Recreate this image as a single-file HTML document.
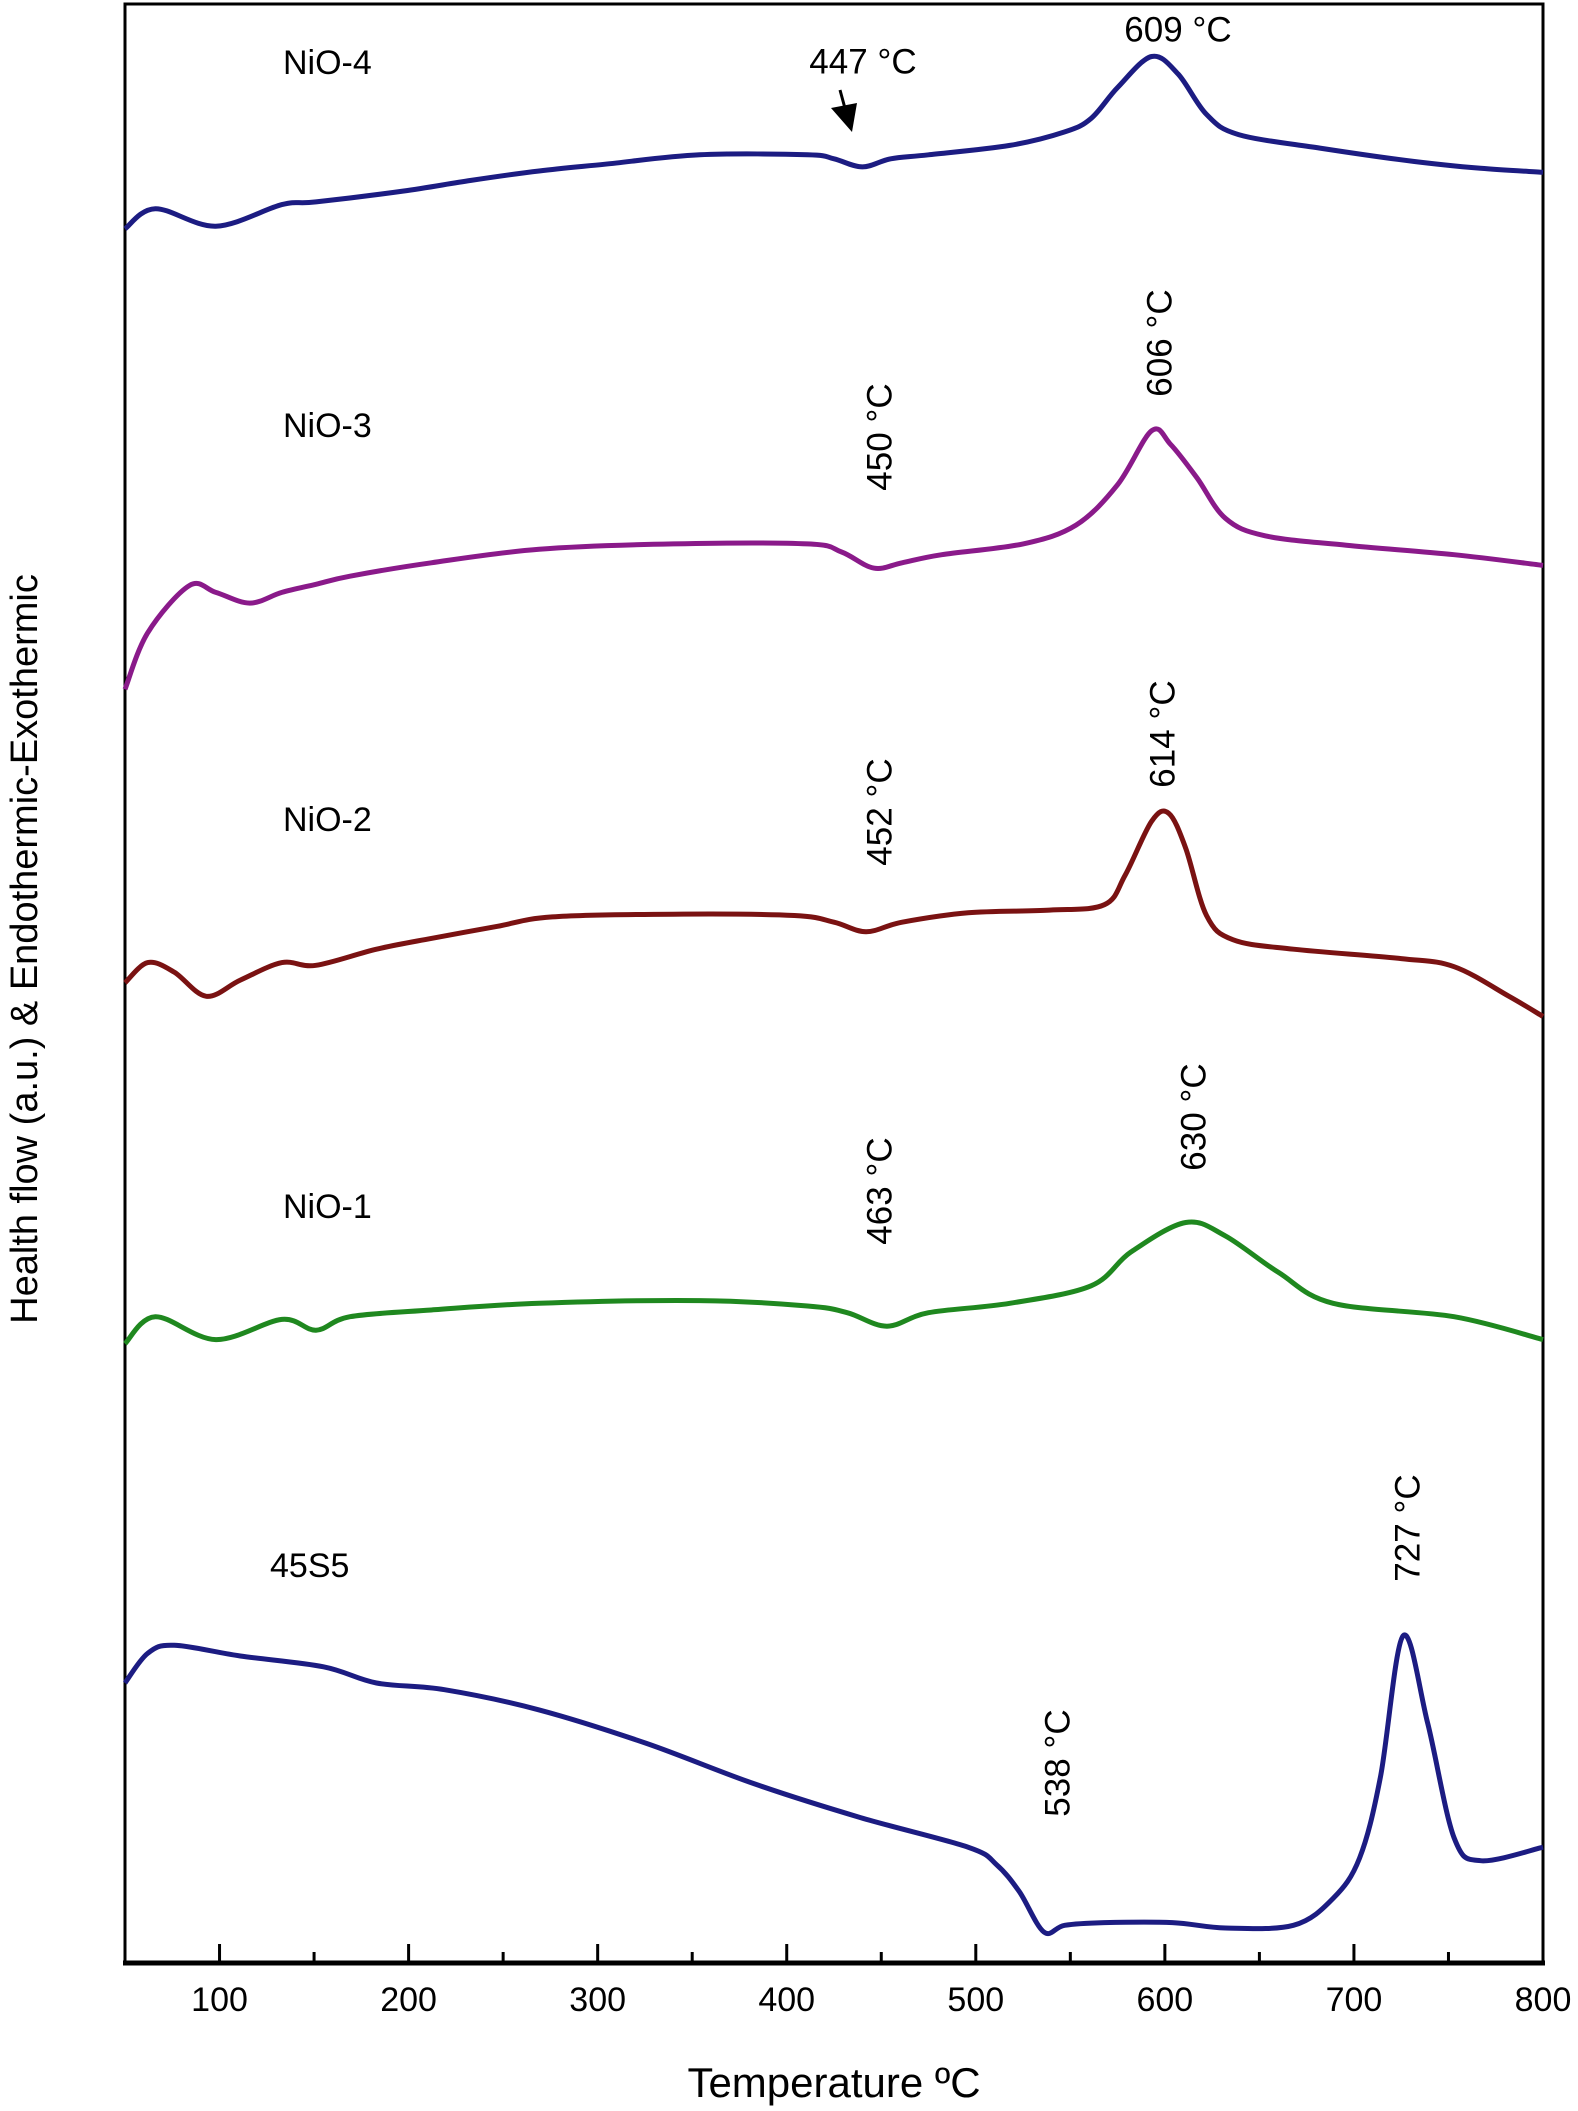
<!DOCTYPE html>
<html><head><meta charset="utf-8"><style>
html,body{margin:0;padding:0;background:#fff}
svg{display:block}
text{font-family:"Liberation Sans",sans-serif;fill:#000}
</style></head><body>
<svg id="chart" width="1578" height="2111" viewBox="0 0 1578 2111">
<g id="plot"></g>
</svg>
<script>
const tickValues=[100,200,300,400,500,600,700,800];
const minorTicks=[150,250,350,450,550,650,750];
const seriesNames=["NiO-4","NiO-3","NiO-2","NiO-1","45S5"];
const seriesColors=["#1c1c82","#8a1a8a","#7a1212","#1f881f","#1c1c82"];
const nio4T=[50,66,98,133,151,197,233,269,304,354,411,425,440,455,475,518,547,561,575,593,607,622,639,682,732,767,800];
const nio4V=[1288,1303,1290,1306,1308,1316,1324,1331,1336,1343,1343,1340,1334,1340,1343,1350,1360,1370,1393,1416,1403,1373,1358,1348,1338,1333,1330];
const nio3T=[50,62,84,98,116,133,151,169,212,269,340,411,429,446,461,482,525,553,575,593,603,617,632,653,696,753,800];
const nio3V=[946,988,1023,1018,1010,1018,1024,1030,1040,1050,1054,1054,1048,1036,1040,1046,1054,1068,1098,1138,1128,1103,1073,1060,1053,1046,1038];
const nio2T=[50,62,76,93,111,133,151,183,212,247,276,340,404,425,442,461,496,539,568,579,593,602,611,622,636,668,725,753,782,800];
const nio2V=[728,743,736,718,730,743,741,753,761,770,777,779,778,773,766,773,780,782,786,808,848,854,828,778,760,753,746,740,718,703];
const nio1T=[50,66,98,133,151,169,212,269,354,411,432,453,475,518,561,582,611,632,660,689,753,800];
const nio1V=[460,480,463,478,470,480,485,490,492,488,483,473,483,490,503,528,550,540,513,490,480,463];
const s45T=[50,62,76,111,155,183,219,269,326,383,439,496,511,523,536,547,568,604,632,668,689,703,714,726,739,753,767,800];
const s45V=[208,230,236,228,220,208,203,188,163,133,108,86,73,53,23,28,30,30,26,28,48,78,138,243,178,93,76,86];

const L=125,R=1543,B=1963,T0=4;
const xs=t=>L+(t-50)*(R-L)/750;
const ys=v=>B-v*(B-T0)/1455;
const NS="http://www.w3.org/2000/svg";
const plot=document.getElementById('plot');
function mk(tag,attrs,parent){const e=document.createElementNS(NS,tag);for(const k in attrs)e.setAttribute(k,attrs[k]);(parent||plot).appendChild(e);return e;}
function pathFrom(ts,vs){
  const p=ts.map((t,i)=>[xs(t),ys(vs[i])]);
  let d="M"+p[0][0].toFixed(1)+","+p[0][1].toFixed(1);
  for(let i=0;i<p.length-1;i++){
    const p0=p[i-1]||p[i],p1=p[i],p2=p[i+1],p3=p[i+2]||p2;
    const c1=[p1[0]+(p2[0]-p0[0])/6,p1[1]+(p2[1]-p0[1])/6];
    const c2=[p2[0]-(p3[0]-p1[0])/6,p2[1]-(p3[1]-p1[1])/6];
    d+=" C"+c1[0].toFixed(1)+","+c1[1].toFixed(1)+" "+c2[0].toFixed(1)+","+c2[1].toFixed(1)+" "+p2[0].toFixed(1)+","+p2[1].toFixed(1);
  }
  return d;
}
const frame=mk('rect',{x:L,y:T0,width:R-L,height:B-T0,fill:'none',stroke:'#000','stroke-width':3});


const xaxis=mk('line',{x1:L-2,y1:B,x2:R+2,y2:B,stroke:'#000','stroke-width':5});


tickValues.forEach(v=>{
  const tk=mk('line',{x1:xs(v),y1:B,x2:xs(v),y2:B-19,stroke:'#000','stroke-width':3});
  
  
  const lb=mk('text',{x:xs(v),y:B+48,'text-anchor':'middle','font-size':34});
  lb.textContent=v;
  
  
});
minorTicks.forEach(v=>{
  const tk=mk('line',{x1:xs(v),y1:B,x2:xs(v),y2:B-11,stroke:'#000','stroke-width':3});
  
  
});
const xt=mk('text',{x:(L+R)/2,y:2097,'text-anchor':'middle','font-size':42});
xt.textContent="Temperature ºC";


const yt=mk('text',{x:0,y:0,'text-anchor':'middle','font-size':38,transform:'translate(37,949) rotate(-90)'});
yt.textContent="Health flow (a.u.) & Endothermic-Exothermic";


const allT=[nio4T,nio3T,nio2T,nio1T,s45T],allV=[nio4V,nio3V,nio2V,nio1V,s45V];
allT.forEach((ts,i)=>{
  const p=mk('path',{d:pathFrom(ts,allV[i]),fill:'none',stroke:seriesColors[i],'stroke-width':5,'stroke-linejoin':'round'});
  
  
});
const seriesLabelPos=[[283,74],[283,437],[283,831],[283,1218],[270,1577]];
seriesNames.forEach((n,i)=>{
  const t=mk('text',{x:seriesLabelPos[i][0],y:seriesLabelPos[i][1],'font-size':34});
  t.textContent=n;
  
  
});
const ann=[["447 °C",863,62,0],["609 °C",1178,30,0],["606 °C",1160,343,-90],["450 °C",880,437,-90],["614 °C",1163,734,-90],["452 °C",880,812,-90],["630 °C",1194,1117,-90],["463 °C",880,1191,-90],["727 °C",1408,1528,-90],["538 °C",1058,1763,-90]];
ann.forEach(a=>{
  const t=mk('text',{x:0,y:0,'text-anchor':'middle','dominant-baseline':'central','font-size':35,transform:'translate('+a[1]+','+a[2]+') rotate('+a[3]+')'});
  t.textContent=a[0];
  
  
});
const arr=mk('line',{x1:840,y1:90,x2:846,y2:112,stroke:'#000','stroke-width':3});


const ah=mk('polygon',{points:'831,108 857,103 852,132',fill:'#000'});


</script>
</body></html>
